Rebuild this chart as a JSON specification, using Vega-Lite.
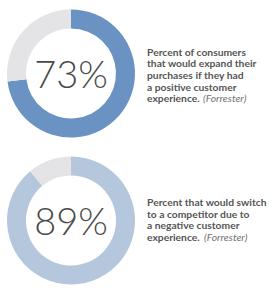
{
  "$schema": "https://vega.github.io/schema/vega-lite/v6.json",
  "padding": 0,
  "background": "white",
  "config": {"view": {"stroke": null}, "concat": {"spacing": 0}},
  "datasets": {
    "donut": [
      {"chart": "A", "seg": 1, "value": 73, "part": "A-fill", "label": "73%"},
      {"chart": "A", "seg": 2, "value": 27, "part": "rest", "label": "73%"},
      {"chart": "B", "seg": 1, "value": 89, "part": "B-fill", "label": "89%"},
      {"chart": "B", "seg": 2, "value": 11, "part": "rest", "label": "89%"}
    ],
    "lines": [
      {"chart": "A", "pos": -2, "col": 0, "text": "Percent of consumers", "kind": "b"},
      {"chart": "A", "pos": -1, "col": 0, "text": "that would expand their", "kind": "b"},
      {"chart": "A", "pos": 0, "col": 0, "text": "purchases if they had", "kind": "b"},
      {"chart": "A", "pos": 1, "col": 0, "text": "a positive customer", "kind": "b"},
      {"chart": "A", "pos": 2, "col": 0, "text": "experience.", "kind": "b"},
      {"chart": "A", "pos": 2, "col": 0, "text": "(Forrester)", "kind": "i"},
      {"chart": "B", "pos": -1.5, "col": 0, "text": "Percent that would switch", "kind": "b"},
      {"chart": "B", "pos": -0.5, "col": 0, "text": "to a competitor due to", "kind": "b"},
      {"chart": "B", "pos": 0.5, "col": 0, "text": "a negative customer", "kind": "b"},
      {"chart": "B", "pos": 1.5, "col": 0, "text": "experience.", "kind": "b"},
      {"chart": "B", "pos": 1.5, "col": 0, "text": "(Forrester)", "kind": "i"}
    ]
  },
  "vconcat": [
    {
      "hconcat": [
        {
          "width": 142, "height": 147,
          "data": {"name": "donut"},
          "transform": [{"filter": "datum.chart === 'A'"}],
          "layer": [
            {
              "mark": {"type": "arc", "outerRadius": 64, "innerRadius": 45},
              "encoding": {
                "theta": {"field": "value", "type": "quantitative", "stack": true},
                "order": {"field": "seg"},
                "color": {"field": "part", "type": "nominal", "legend": null,
                  "scale": {"domain": ["A-fill", "B-fill", "rest"], "range": ["#6a92c2", "#b4c7dc", "#e4e4e6"]}}
              }
            },
            {
              "transform": [{"filter": "datum.seg === 1"}],
              "mark": {"type": "text", "font": "Lato", "fontWeight": 300, "fontSize": 38, "color": "#4a4a4a", "baseline": "middle", "align": "center", "dy": 3},
              "encoding": {"text": {"field": "label"}}
            }
          ]
        },
        {
          "width": 131, "height": 147,
          "data": {"name": "lines"},
          "transform": [{"filter": "datum.chart === 'A'"}],
          "encoding": {
            "x": {"field": "col", "type": "quantitative", "axis": null, "scale": {"domain": [0, 1]}},
            "y": {"field": "pos", "type": "quantitative", "axis": null, "scale": {"domain": [-6.39, 6.39], "zero": false, "reverse": true}},
            "text": {"field": "text"}
          },
          "layer": [
            {
              "transform": [{"filter": "datum.kind === 'b'"}],
              "mark": {"type": "text", "font": "Lato", "fontWeight": "bold", "fontSize": 10.3, "color": "#555555", "align": "left", "baseline": "middle", "dy": 2.5}
            },
            {
              "transform": [{"filter": "datum.kind === 'i'"}],
              "mark": {"type": "text", "font": "Lato", "fontStyle": "italic", "fontSize": 10.3, "color": "#707070", "align": "left", "baseline": "middle", "dy": 2.5, "dx": 56}
            }
          ]
        }
      ],
      "spacing": 5
    },
    {
      "hconcat": [
        {
          "width": 142, "height": 147,
          "data": {"name": "donut"},
          "transform": [{"filter": "datum.chart === 'B'"}],
          "layer": [
            {
              "mark": {"type": "arc", "outerRadius": 64, "innerRadius": 45},
              "encoding": {
                "theta": {"field": "value", "type": "quantitative", "stack": true},
                "order": {"field": "seg"},
                "color": {"field": "part", "type": "nominal", "legend": null,
                  "scale": {"domain": ["A-fill", "B-fill", "rest"], "range": ["#6a92c2", "#b4c7dc", "#e4e4e6"]}}
              }
            },
            {
              "transform": [{"filter": "datum.seg === 1"}],
              "mark": {"type": "text", "font": "Lato", "fontWeight": 300, "fontSize": 38, "color": "#4a4a4a", "baseline": "middle", "align": "center", "dy": 3},
              "encoding": {"text": {"field": "label"}}
            }
          ]
        },
        {
          "width": 131, "height": 147,
          "data": {"name": "lines"},
          "transform": [{"filter": "datum.chart === 'B'"}],
          "encoding": {
            "x": {"field": "col", "type": "quantitative", "axis": null, "scale": {"domain": [0, 1]}},
            "y": {"field": "pos", "type": "quantitative", "axis": null, "scale": {"domain": [-6.39, 6.39], "zero": false, "reverse": true}},
            "text": {"field": "text"}
          },
          "layer": [
            {
              "transform": [{"filter": "datum.kind === 'b'"}],
              "mark": {"type": "text", "font": "Lato", "fontWeight": "bold", "fontSize": 10.3, "color": "#555555", "align": "left", "baseline": "middle", "dy": 0}
            },
            {
              "transform": [{"filter": "datum.kind === 'i'"}],
              "mark": {"type": "text", "font": "Lato", "fontStyle": "italic", "fontSize": 10.3, "color": "#707070", "align": "left", "baseline": "middle", "dy": 0, "dx": 57}
            }
          ]
        }
      ],
      "spacing": 5
    }
  ]
}
